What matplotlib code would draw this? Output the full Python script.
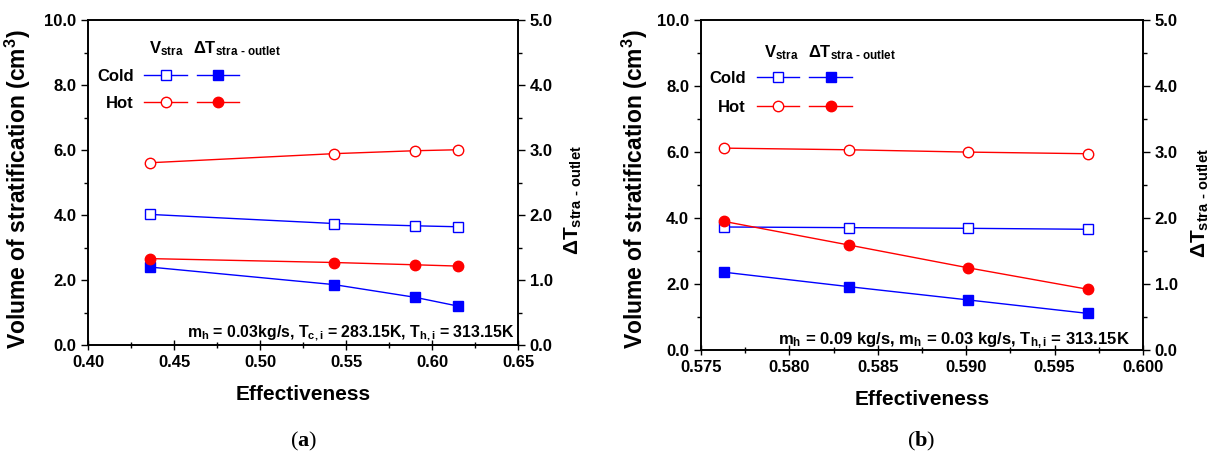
import matplotlib
matplotlib.use('Agg')
import matplotlib.pyplot as plt
from matplotlib.lines import Line2D
from matplotlib.ticker import MultipleLocator, FormatStrFormatter

plt.rcParams['font.family'] = ['Liberation Sans', 'DejaVu Sans']
plt.rcParams['font.weight'] = 'bold'
plt.rcParams['mathtext.fontset'] = 'custom'
plt.rcParams['mathtext.rm'] = 'Liberation Sans:bold'
plt.rcParams['mathtext.it'] = 'Liberation Sans:bold'
plt.rcParams['mathtext.bf'] = 'Liberation Serif:bold'
plt.rcParams['mathtext.default'] = 'rm'

# panel (a) data
eff_a = [0.436, 0.543, 0.590, 0.615]
v_cold_a = [4.02, 3.74, 3.67, 3.64]
v_hot_a = [5.61, 5.89, 5.98, 6.01]
dt_cold_a = [1.20, 0.93, 0.735, 0.60]
dt_hot_a = [1.33, 1.27, 1.235, 1.215]

# panel (b) data
eff_b = [0.5763, 0.5834, 0.5901, 0.5969]
v_cold_b = [3.73, 3.71, 3.69, 3.66]
v_hot_b = [6.12, 6.07, 6.00, 5.95]
dt_cold_b = [1.18, 0.96, 0.76, 0.555]
dt_hot_b = [1.95, 1.59, 1.247, 0.92]

note_a = r'm$_{h}$ = 0.03kg/s, T$_{c,i}$ = 283.15K, T$_{h,i}$ = 313.15K'
note_b = r'm$_{h}$ = 0.09 kg/s, m$_{h}$ = 0.03 kg/s, T$_{h,i}$ = 313.15K'

BLUE = '#0000ff'
RED = '#ff0000'
MS_SQ = 7
MS_CI = 7.5


def panel(fig, rect, eff, vc, vh, tc, th, xlim, xmaj, xfmt, note, note_xy, note_fs,
          ylab_xy, rlab_xy, leg_xy, leg_sp, head_y, dt_head_x):
    ax = fig.add_axes(rect)
    ax2 = ax.twinx()
    ax.plot(eff, vc, '-s', color=BLUE, lw=1, ms=MS_SQ, mfc='white', mec=BLUE, mew=1)
    ax.plot(eff, vh, '-o', color=RED, lw=1, ms=MS_CI, mfc='white', mec=RED, mew=1)
    ax2.plot(eff, tc, '-s', color=BLUE, lw=1, ms=MS_SQ, mfc=BLUE, mec=BLUE)
    ax2.plot(eff, th, '-o', color=RED, lw=1, ms=MS_CI, mfc=RED, mec=RED)

    ax.set_xlim(*xlim)
    ax.set_ylim(0, 10)
    ax2.set_ylim(0, 5)
    ax.xaxis.set_major_locator(MultipleLocator(xmaj))
    ax.xaxis.set_minor_locator(MultipleLocator(xmaj / 2))
    ax.xaxis.set_major_formatter(FormatStrFormatter(xfmt))
    ax.yaxis.set_major_locator(MultipleLocator(2))
    ax.yaxis.set_minor_locator(MultipleLocator(1))
    ax.yaxis.set_major_formatter(FormatStrFormatter('%.1f'))
    ax2.yaxis.set_major_locator(MultipleLocator(1))
    ax2.yaxis.set_minor_locator(MultipleLocator(0.5))
    ax2.yaxis.set_major_formatter(FormatStrFormatter('%.1f'))

    ax.tick_params(axis='x', which='major', direction='inout', length=7, width=1, labelsize=12)
    ax.tick_params(axis='x', which='minor', direction='inout', length=4, width=1)
    ax.tick_params(axis='y', which='major', direction='out', length=5, width=1, labelsize=12)
    ax.tick_params(axis='y', which='minor', direction='out', length=3, width=1)
    ax2.tick_params(axis='y', which='major', direction='out', length=5, width=1, labelsize=12)
    ax2.tick_params(axis='y', which='minor', direction='out', length=3, width=1)
    for a in (ax, ax2):
        for s in a.spines.values():
            s.set_linewidth(1.2)

    ax.set_xlabel('Effectiveness', fontsize=15, fontweight='bold', labelpad=11)
    ax.set_ylabel('Volume of stratification (cm$^{3}$)', fontsize=16.5, fontweight='bold')
    ax.yaxis.set_label_coords(*ylab_xy)
    ax2.set_ylabel(r'$\Delta$T$_{stra\ \text{-}\ outlet}$', fontsize=15, fontweight='bold')
    ax2.yaxis.set_label_coords(*rlab_xy)

    ax.text(note_xy[0], note_xy[1], note, transform=ax.transAxes, ha='right', va='baseline',
            fontsize=note_fs)

    # legend block: column headers, then the Cold / Hot rows
    ax.text(0.142, head_y, r'V$_{stra}$', transform=ax.transAxes, fontsize=12, va='baseline')
    ax.text(dt_head_x, head_y, r'$\Delta$T$_{stra\ \text{-}\ outlet}$', transform=ax.transAxes,
            fontsize=12, va='baseline')
    handles = [
        Line2D([], [], color=BLUE, lw=1, marker='s', ms=MS_SQ, mfc='white', mec=BLUE),
        Line2D([], [], color=RED, lw=1, marker='o', ms=MS_CI, mfc='white', mec=RED),
        Line2D([], [], color=BLUE, lw=1, marker='s', ms=MS_SQ, mfc=BLUE, mec=BLUE),
        Line2D([], [], color=RED, lw=1, marker='o', ms=MS_CI, mfc=RED, mec=RED),
    ]
    ax.legend(handles, ['Cold', 'Hot', '', ''], ncol=2, markerfirst=False, frameon=False,
              loc='upper left', bbox_to_anchor=leg_xy, fontsize=12,
              handlelength=2.55, handletextpad=0.65, columnspacing=-0.05, labelspacing=leg_sp,
              borderaxespad=0.0)
    return ax


fig = plt.figure(figsize=(12.18, 4.57), dpi=100)
panel(fig, [0.0723, 0.245, 0.353, 0.711], eff_a, v_cold_a, v_hot_a, dt_cold_a, dt_hot_a,
      (0.40, 0.65), 0.05, '%.2f', note_a, (0.993, 0.025), 11.4,
      (-0.128, 0.48), (1.105, 0.446), (0.005, 0.87), 0.72, 0.897, 0.244)
panel(fig, [0.5755, 0.234, 0.3629, 0.722], eff_b, v_cold_b, v_hot_b, dt_cold_b, dt_hot_b,
      (0.575, 0.600), 0.005, '%.3f', note_b, (0.971, 0.017), 12,
      (-0.115, 0.488), (1.106, 0.445), (0.004, 0.865), 0.84, 0.888, 0.242)

fig.text(0.2488, 0.035, r'($\mathbf{a}$)', family='Liberation Serif', fontweight='normal',
         fontsize=16, ha='center', va='center')
fig.text(0.756, 0.035, r'($\mathbf{b}$)', family='Liberation Serif', fontweight='normal',
         fontsize=16, ha='center', va='center')

fig.savefig('out.png', dpi=100)
